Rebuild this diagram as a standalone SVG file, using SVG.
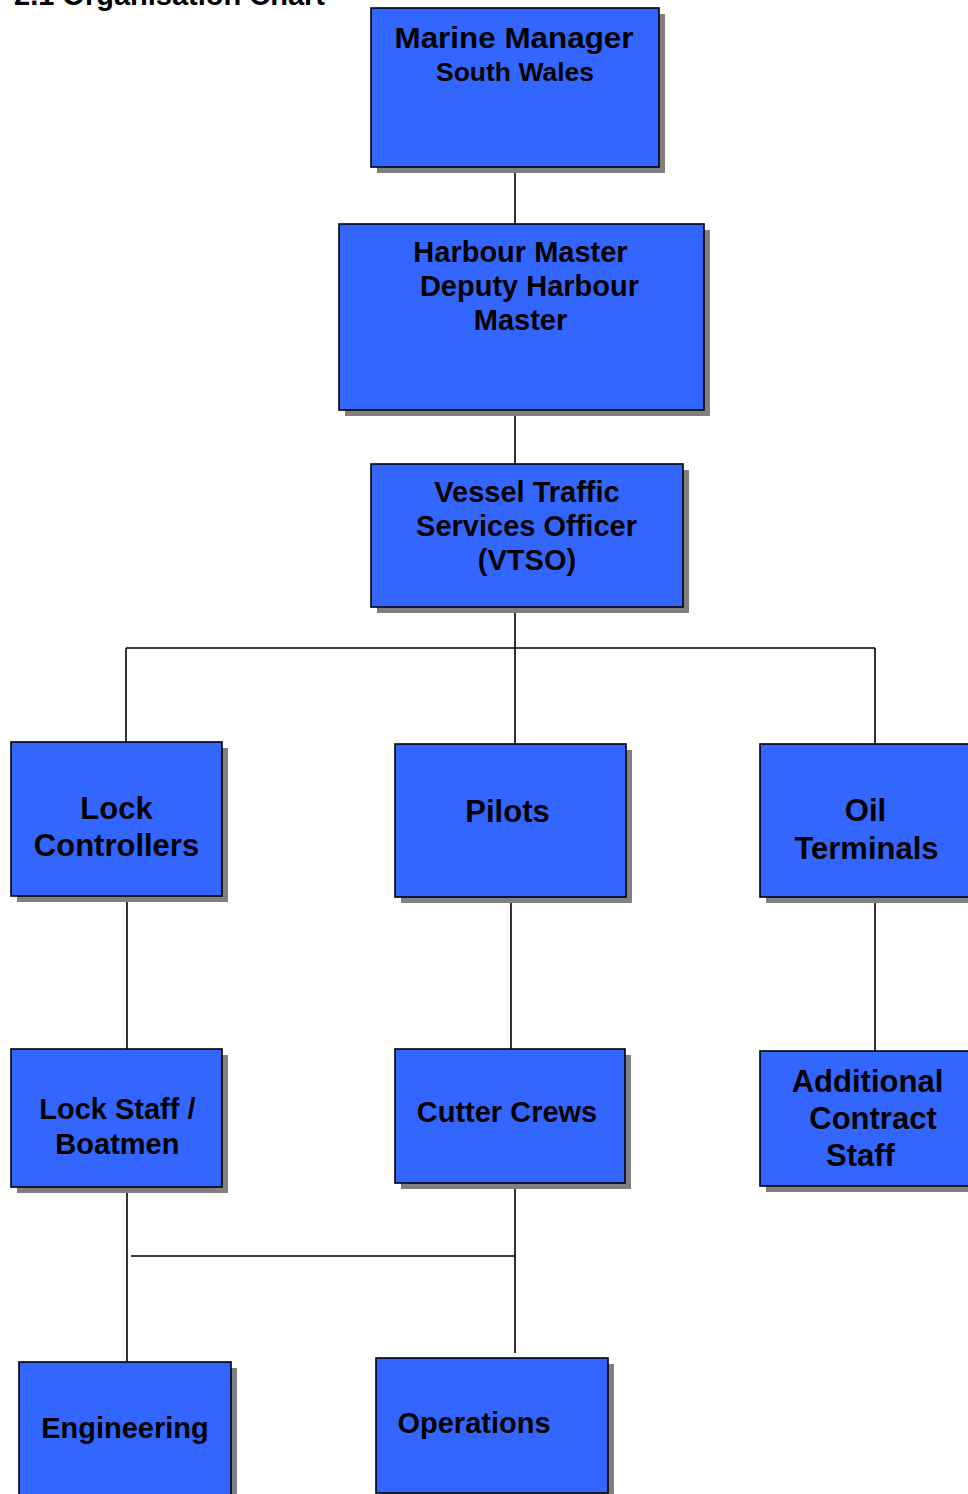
<svg xmlns="http://www.w3.org/2000/svg" width="968" height="1494" viewBox="0 0 968 1494">
<style>
.box{fill:#3366FF;stroke:#000;stroke-width:1.6}
.sh{fill:#808080}
.t{font-family:"Liberation Sans",Arial,sans-serif;font-weight:bold;fill:#000;text-anchor:middle}
.c{stroke:#000;stroke-width:1.6;fill:none}
</style>
<rect width="968" height="1494" fill="#fff"/>
<text x="14" y="5" font-family="Liberation Sans, Arial, sans-serif" font-weight="bold" font-size="29" fill="#000">2.1 Organisation Chart</text>
<g id="connectors">
<line class="c" x1="515" y1="167" x2="515" y2="224"/>
<line class="c" x1="515" y1="410" x2="515" y2="464"/>
<line class="c" x1="515" y1="607" x2="515" y2="744"/>
<line class="c" x1="126" y1="648" x2="875" y2="648"/>
<line class="c" x1="126" y1="648" x2="126" y2="742"/>
<line class="c" x1="875" y1="648" x2="875" y2="744"/>
<line class="c" x1="127" y1="896" x2="127" y2="1049"/>
<line class="c" x1="511" y1="897" x2="511" y2="1049"/>
<line class="c" x1="875" y1="897" x2="875" y2="1051"/>
<line class="c" x1="127" y1="1187" x2="127" y2="1362"/>
<line class="c" x1="131" y1="1256" x2="515" y2="1256"/>
<line class="c" x1="515" y1="1183" x2="515" y2="1353"/>
</g>
<g id="marine-manager">
<rect class="sh" x="377" y="14" width="288" height="159"/>
<rect class="box" x="371" y="8" width="288" height="159"/>
<text class="t" x="514" y="48" font-size="30" textLength="239" lengthAdjust="spacingAndGlyphs">Marine Manager</text>
<text class="t" x="515" y="81" font-size="25" textLength="158" lengthAdjust="spacingAndGlyphs">South Wales</text>
</g>
<g id="harbour-master">
<rect class="sh" x="345" y="230" width="365" height="186"/>
<rect class="box" x="339" y="224" width="365" height="186"/>
<text class="t" x="520.5" y="262" font-size="29">Harbour Master</text>
<text class="t" x="529.5" y="296" font-size="29">Deputy Harbour</text>
<text class="t" x="520.5" y="330" font-size="29">Master</text>
</g>
<g id="vtso">
<rect class="sh" x="377" y="470" width="312" height="143"/>
<rect class="box" x="371" y="464" width="312" height="143"/>
<text class="t" x="527" y="502" font-size="29">Vessel Traffic</text>
<text class="t" x="526.5" y="536" font-size="29">Services Officer</text>
<text class="t" x="527" y="570" font-size="29">(VTSO)</text>
</g>
<g id="lock-controllers">
<rect class="sh" x="17" y="748" width="211" height="154"/>
<rect class="box" x="11" y="742" width="211" height="154"/>
<text class="t" x="116.5" y="819" font-size="31">Lock</text>
<text class="t" x="116.5" y="856" font-size="31">Controllers</text>
</g>
<g id="pilots">
<rect class="sh" x="401" y="750" width="231" height="153"/>
<rect class="box" x="395" y="744" width="231" height="153"/>
<text class="t" x="507.5" y="822" font-size="31">Pilots</text>
</g>
<g id="oil-terminals">
<rect class="sh" x="766" y="750" width="220" height="153"/>
<rect class="box" x="760" y="744" width="220" height="153"/>
<text class="t" x="865.5" y="821" font-size="31">Oil</text>
<text class="t" x="866.5" y="859" font-size="31">Terminals</text>
</g>
<g id="lock-staff">
<rect class="sh" x="17" y="1055" width="211" height="138"/>
<rect class="box" x="11" y="1049" width="211" height="138"/>
<text class="t" x="117.4" y="1119" font-size="29">Lock Staff /</text>
<text class="t" x="117.4" y="1154" font-size="29">Boatmen</text>
</g>
<g id="cutter-crews">
<rect class="sh" x="401" y="1055" width="230" height="134"/>
<rect class="box" x="395" y="1049" width="230" height="134"/>
<text class="t" x="507" y="1122" font-size="29">Cutter Crews</text>
</g>
<g id="additional-contract-staff">
<rect class="sh" x="766" y="1057" width="220" height="135"/>
<rect class="box" x="760" y="1051" width="220" height="135"/>
<text class="t" x="867.5" y="1092" font-size="31">Additional</text>
<text class="t" x="873" y="1129" font-size="31">Contract</text>
<text class="t" x="860.5" y="1166" font-size="31">Staff</text>
</g>
<g id="engineering">
<rect class="sh" x="25" y="1368" width="212" height="140"/>
<rect class="box" x="19" y="1362" width="212" height="140"/>
<text class="t" x="125" y="1438" font-size="29">Engineering</text>
</g>
<g id="operations">
<rect class="sh" x="382" y="1364" width="232" height="135"/>
<rect class="box" x="376" y="1358" width="232" height="135"/>
<text class="t" x="474" y="1433" font-size="29">Operations</text>
</g>
</svg>
